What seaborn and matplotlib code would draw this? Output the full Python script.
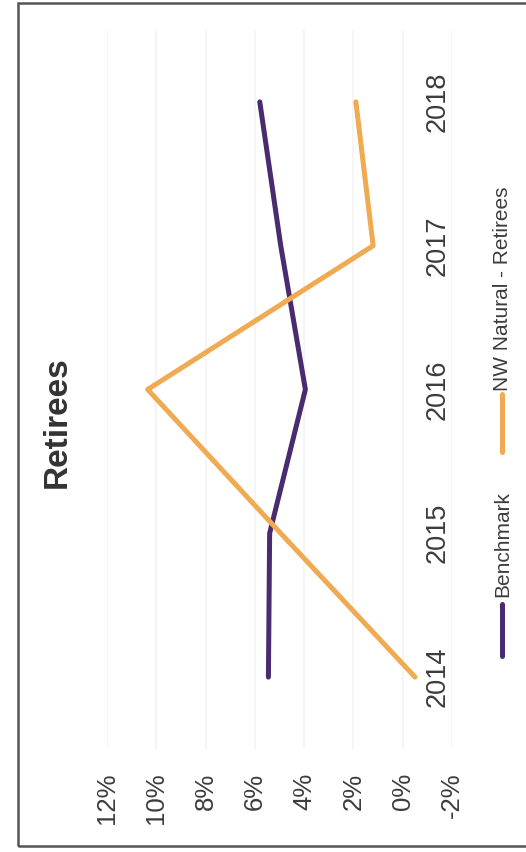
import matplotlib
matplotlib.use("Agg")
import matplotlib.pyplot as plt
from matplotlib.lines import Line2D
from matplotlib.patches import Rectangle
from matplotlib.ticker import FuncFormatter
import seaborn as sns
import pandas as pd

# Data (percent)
years = [2014, 2015, 2016, 2017, 2018]
benchmark = [5.45, 5.4, 3.95, 4.95, 5.8]
nw_natural = [-0.5, 4.95, 10.35, 1.2, 1.9]
series_names = ["Benchmark", "NW Natural - Retirees"]
pct_ticks = [12, 10, 8, 6, 4, 2, 0, -2]

purple = "#4a2b6f"
orange = "#f0aa52"
text_col = "#3c3c3c"

df = pd.DataFrame({
    "year": years * 2,
    "value": benchmark + nw_natural,
    "series": [series_names[0]] * len(years) + [series_names[1]] * len(years),
})

sns.set_theme(style="white")
plt.rcParams["font.family"] = ["Liberation Sans", "DejaVu Sans"]

W, H = 526, 852
fig = plt.figure(figsize=(W / 100, H / 100), dpi=100)
fig.patch.set_facecolor("white")

# Chart is laid out turned on its side: values run right-to-left, years bottom-to-top
x_left, x_right = 107, 452
y_top, y_bot = 30, 749
ax = fig.add_axes([x_left / W, (H - y_bot) / H, (x_right - x_left) / W, (y_bot - y_top) / H])

sns.lineplot(data=df, x="value", y="year", hue="series", orient="y", sort=False,
             palette=[purple, orange], linewidth=3.6, legend=False, ax=ax,
             solid_capstyle="round")

ax.set_xlim(12, -2)
ax.set_ylim(2013.5, 2018.5)
ax.set_xticks(pct_ticks)
ax.xaxis.set_major_formatter(FuncFormatter(lambda v, p: f"{v:.0f}%"))
ax.grid(axis="x", color="#f3f3f3", linewidth=1.2)
ax.grid(axis="y", visible=False)
for s in ax.spines.values():
    s.set_visible(False)
ax.set_xlabel("")
ax.set_ylabel("")

ax.tick_params(axis="x", length=0, pad=17, labelsize=18.5, labelcolor=text_col,
               labelrotation=90)
for lbl in ax.get_xticklabels():
    lbl.set_va("top")
    lbl.set_ha("center")

# Year labels sit beside the 0% line
ax.yaxis.tick_right()
ax.spines["right"].set_position(("data", 0))
ax.set_yticks(years)
ax.set_yticklabels([str(y) for y in years])
ax.tick_params(axis="y", length=0, pad=16, labelsize=19.5, labelcolor=text_col)
for lbl in ax.get_yticklabels():
    lbl.set_rotation(90)
    lbl.set_va("center")
    lbl.set_ha("left")

# Title
fig.text(57 / W, 1 - 422 / H, "Retirees", rotation=90, ha="center", va="center",
         fontsize=24, fontweight="bold", color="#333333")

# Legend
def legend_entry(y0, y1, ty, label, color):
    fig.add_artist(Line2D([502 / W, 502 / W], [1 - y0 / H, 1 - y1 / H],
                          transform=fig.transFigure, color=color, linewidth=3.6,
                          solid_capstyle="round"))
    fig.text(503 / W, 1 - ty / H, label, rotation=90, ha="center", va="center",
             fontsize=15, color=text_col)

legend_entry(604, 656, 544, series_names[0], purple)
legend_entry(394, 452, 289, series_names[1], orange)

# Outer frame
fig.add_artist(Rectangle((18 / W, (H - 846) / H), 1.2, (846 - 3) / H,
                         transform=fig.transFigure, fill=False,
                         edgecolor="#555555", linewidth=1.8, clip_on=False))

fig.savefig("out.png", dpi=100, facecolor="white")
